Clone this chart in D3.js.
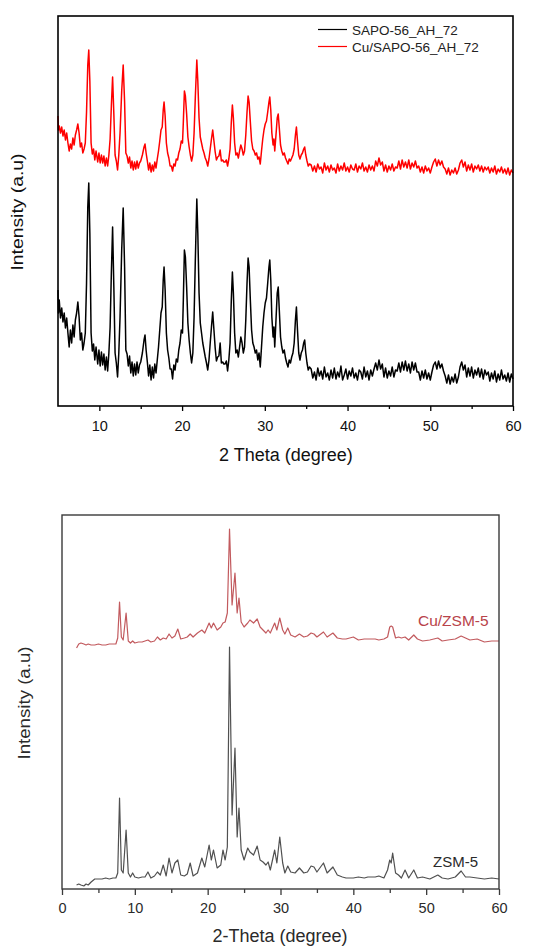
<!DOCTYPE html>
<html>
<head>
<meta charset="utf-8">
<script src="https://cdn.jsdelivr.net/npm/d3@7"></script>
<style>
  html, body { margin: 0; padding: 0; background: #fff; }
  svg { display: block; font-family: "Liberation Sans", Arial, sans-serif; }
</style>
</head>
<body>
<svg id="chart" width="550" height="946"></svg>
<script>
// ---- top panel: SAPO-56 (2 theta in degrees, intensity in a.u.) ----
const theta56 = [
  5.0,5.05,5.15,5.3,5.45,5.6,5.75,5.9,6.05,6.2,
  6.35,6.5,6.65,6.8,6.95,7.1,7.25,7.4,7.55,7.7,
  7.85,8.0,8.15,8.3,8.45,8.6,8.72,8.85,9.0,9.15,
  9.3,9.45,9.6,9.8,9.95,10.1,10.25,10.4,10.55,10.7,
  10.85,11.0,11.15,11.3,11.45,11.6,11.75,11.9,12.05,12.2,
  12.35,12.5,12.7,12.88,13.05,13.2,13.35,13.5,13.65,13.8,
  13.95,14.1,14.25,14.4,14.55,14.7,14.85,15.0,15.2,15.4,
  15.52,15.65,15.8,15.95,16.1,16.25,16.4,16.55,16.7,16.85,
  17.0,17.15,17.3,17.45,17.6,17.72,17.82,17.95,18.1,18.25,
  18.4,18.55,18.7,18.85,19.0,19.15,19.3,19.45,19.6,19.75,
  19.9,20.05,20.15,20.28,20.4,20.55,20.7,20.85,21.0,21.15,
  21.3,21.45,21.6,21.78,21.9,22.05,22.2,22.35,22.5,22.65,
  22.8,22.95,23.1,23.25,23.4,23.55,23.7,23.85,24.0,24.15,
  24.3,24.45,24.6,24.75,24.9,25.05,25.2,25.35,25.5,25.65,
  25.8,25.95,26.08,26.2,26.35,26.5,26.65,26.8,26.95,27.1,
  27.25,27.4,27.55,27.7,27.85,27.98,28.1,28.25,28.4,28.55,
  28.7,28.85,29.0,29.15,29.3,29.45,29.6,29.75,29.9,30.05,
  30.2,30.35,30.5,30.6,30.72,30.85,31.0,31.1,31.2,31.35,
  31.5,31.62,31.75,31.9,32.05,32.2,32.35,32.5,32.65,32.8,
  32.95,33.1,33.25,33.4,33.55,33.7,33.82,33.95,34.1,34.25,
  34.4,34.55,34.7,34.82,34.95,35.1,35.25,35.4,
  35.6,35.8,36.0,36.2,36.4,36.6,36.8,37.0,37.2,37.4,
  37.6,37.8,38.0,38.2,38.4,38.6,38.8,39.0,39.2,39.4,
  39.6,39.8,40.0,40.2,40.4,40.6,40.8,41.0,41.2,41.4,
  41.6,41.8,42.0,42.2,42.4,42.6,42.8,43.0,43.2,
  43.4,43.6,43.8,44.0,44.2,
  44.4,44.6,44.8,45.0,45.2,45.4,45.6,45.8,
  46.0,46.2,46.4,46.6,46.8,47.0,47.2,47.4,47.6,47.8,48.0,48.2,48.4,
  48.6,48.8,49.0,49.2,49.4,49.6,49.8,50.0,50.2,
  50.4,50.6,50.8,51.0,51.2,51.4,51.6,
  51.8,52.0,52.2,52.4,52.6,52.8,53.0,53.2,53.4,
  53.6,53.8,54.0,54.2,
  54.4,54.6,54.8,55.0,55.2,55.4,55.6,55.8,56.0,56.2,56.4,56.6,56.8,
  57.0,57.2,57.4,57.6,57.8,58.0,58.2,58.4,58.6,58.8,59.0,59.2,59.4,59.6,59.8,60.0
];
const sapo56 = [
  116,93,106,88,98,84,93,78,88,73,
  59,76,63,81,69,86,93,104,89,66,
  73,56,63,73,123,199,223,173,73,55,
  62,46,59,42,56,40,54,41,52,36,
  49,35,53,79,133,179,119,53,43,29,
  53,89,156,198,139,56,52,40,50,33,
  44,30,42,31,44,33,41,44,53,66,
  71,56,44,30,41,26,39,28,42,33,
  46,59,76,93,99,126,139,116,73,56,
  48,37,37,27,41,36,47,44,56,63,
  76,73,106,156,149,119,83,66,53,43,
  53,89,146,207,173,113,83,73,63,56,
  49,43,36,46,63,79,94,76,58,45,
  49,50,63,43,44,42,42,45,35,46,
  63,106,134,113,73,53,56,49,59,69,
  63,53,59,86,123,148,139,106,76,63,
  59,53,56,46,53,39,59,79,93,103,
  108,123,139,146,126,89,69,79,59,86,
  113,119,96,69,59,53,56,48,43,39,
  46,43,49,53,63,86,99,76,53,46,
  53,56,63,66,53,43,36,39,
  37,28,34,26,38,30,35,27,39,29,
  33,26,36,28,38,27,34,29,40,26,
  31,37,27,35,30,38,28,33,26,36,
  34,27,39,29,35,26,36,30,37,
  43,36,46,37,42,
  29,38,28,35,30,39,29,36,
  35,43,34,44,36,45,35,42,33,44,36,43,34,
  34,26,35,28,36,27,33,26,34,
  41,44,37,45,38,42,35,
  30,23,31,22,29,24,32,23,29,
  39,44,36,41,
  29,38,30,39,28,36,31,38,29,37,27,36,31,
  34,25,33,27,35,24,32,26,36,27,31,25,33,24,32,27
];
const cuSapo56 = [
  290,276,280,273,279,270,276,266,273,263,
  255,262,257,268,261,271,276,282,273,259,
  263,253,257,263,294,341,356,325,263,252,
  257,246,255,244,253,243,251,243,250,240,
  248,240,251,267,300,329,292,251,245,236,
  251,273,315,341,304,253,250,243,249,238,
  245,236,244,237,245,238,243,245,251,259,
  262,253,245,236,243,234,241,235,244,238,
  247,255,265,276,279,296,304,290,263,253,
  248,240,240,235,242,240,247,246,253,257,
  265,263,284,315,310,292,269,259,251,245,
  251,273,309,346,325,288,269,263,257,253,
  248,245,240,247,257,267,276,265,254,246,
  249,250,256,245,246,244,244,246,240,247,
  257,284,301,288,263,251,253,248,255,261,
  257,251,255,271,294,310,304,284,265,257,
  255,251,253,247,249,242,255,267,276,282,
  285,294,304,309,296,273,261,267,255,271,
  288,292,278,261,255,251,253,248,245,242,
  247,245,248,251,257,271,279,265,251,247,
  251,253,257,259,251,245,240,242,
  241,235,240,234,242,237,239,233,243,236,
  240,234,241,236,238,233,242,235,240,236,
  243,235,239,234,241,237,236,242,234,240,
  237,243,235,239,234,241,236,240,235,
  245,240,248,241,244,
  235,241,234,240,236,242,235,239,
  238,245,237,246,239,244,238,246,237,243,239,245,238,
  240,234,239,233,240,235,238,233,239,
  244,247,240,246,241,245,239,
  237,232,238,231,236,233,238,232,236,
  243,246,239,244,
  235,241,236,242,234,240,237,241,235,240,234,239,236,
  239,233,238,234,240,232,237,234,239,233,237,232,238,231,236,233
];
const names56 = ['SAPO-56_AH_72', 'Cu/SAPO-56_AH_72'];
const colors56 = ['#000000', '#ff0000'];
const ticksTop = [10, 20, 30, 40, 50, 60];
const minorTop = [15, 25, 35, 45, 55];

// ---- bottom panel: ZSM-5 ----
const thetaZsm = [
  2.0,2.3,2.6,3.0,3.3,3.6,4.0,4.5,5.0,5.5,
  6.0,6.5,7.0,7.4,7.65,7.9,8.15,8.4,8.8,9.1,
  9.4,9.7,10.0,10.5,11.0,11.4,11.8,12.2,12.7,13.1,
  13.5,13.9,14.3,14.7,15.1,15.5,15.9,16.3,16.8,17.2,
  17.6,18.0,18.6,19.2,19.6,20.2,20.5,20.8,21.3,21.8,
  22.1,22.4,22.7,23.0,23.35,23.75,24.05,24.3,24.6,25.0,
  25.5,25.8,26.3,26.8,27.2,27.6,28.0,28.3,28.6,29.2,
  29.5,29.9,30.3,30.6,31.0,31.4,32.0,32.6,33.2,33.7,
  34.2,34.6,35.0,35.9,36.4,37.2,37.8,38.5,39.0,40.0,
  40.7,41.5,42.0,43.0,43.5,44.2,44.7,45.0,45.2,45.4,
  45.8,46.2,46.6,47.1,47.6,48.3,48.8,49.5,50.5,51.6,
  52.2,53.0,54.0,54.8,55.4,56.0,57.0,58.0,59.0,60.0
];
const zsm5 = [
  4,5,4,3,5,4,7,10,10,10,
  11,10,11,11,16,91,19,16,59,16,
  12,16,12,11,12,12,17,11,13,17,
  14,24,13,31,16,26,29,14,13,15,
  26,13,16,31,22,44,29,39,21,24,
  39,29,42,242,74,141,52,81,39,29,
  41,37,34,43,29,27,24,27,19,39,
  26,52,26,16,23,17,16,21,16,17,
  23,22,17,26,16,22,14,12,11,11,
  12,11,12,12,13,11,19,29,26,36,
  16,14,11,19,11,19,11,12,10,14,
  11,10,12,18,12,12,11,10,11,10
];
const cuZsm5 = [
  241,245,246,245,244,245,244,244,245,244,
  244,245,245,245,251,287,252,249,276,248,
  246,248,246,247,247,248,249,247,248,252,
  249,251,250,255,251,253,260,250,251,252,
  255,252,256,259,256,266,261,266,259,262,
  266,267,276,360,284,316,276,291,267,262,
  266,269,266,270,262,259,256,259,256,266,
  259,271,259,255,261,254,252,255,252,253,
  256,255,252,257,252,256,251,250,250,252,
  249,250,250,250,249,250,252,262,263,262,
  251,252,251,252,249,254,250,248,249,251,
  248,249,250,253,251,249,250,247,248,248
];
const namesZsm = ['ZSM-5', 'Cu/ZSM-5'];
const colorsZsm = ['#505050', '#c25a5e'];
const ticksBottom = [0, 10, 20, 30, 40, 50, 60];
const minorBottom = [5, 15, 25, 35, 45, 55];

const svg = d3.select('#chart');

function panel(o){
  const g = svg.append('g');
  const x = d3.scaleLinear().domain(o.xDomain).range([o.left, o.right]);
  const y = d3.scaleLinear().domain(o.yDomain).range([o.bottom, o.top]);

  // minor + major ticks, outward
  const minor = g.append('g').attr('transform', `translate(0,${o.bottom})`)
    .call(d3.axisBottom(x).tickValues(o.minor).tickSize(o.minorLen).tickFormat(''));
  const major = g.append('g').attr('transform', `translate(0,${o.bottom})`)
    .call(d3.axisBottom(x).tickValues(o.major).tickSize(o.majorLen).tickPadding(o.pad).tickFormat(d3.format('d')));
  [minor, major].forEach(a => {
    a.select('.domain').remove();
    a.selectAll('line').attr('stroke', o.frame).attr('stroke-width', 1.3);
  });
  major.selectAll('text').attr('font-size', o.tickFont).attr('fill', o.tickColor)
    .attr('font-family', '"Liberation Sans", Arial, sans-serif');

  // curves
  const line = d3.line().x(d => x(d[0])).y(d => y(d[1]));
  o.series.forEach(s => {
    g.append('path')
      .datum(d3.zip(o.theta, s.values))
      .attr('fill', 'none')
      .attr('stroke', s.color)
      .attr('stroke-width', s.width)
      .attr('stroke-linejoin', 'round')
      .attr('d', line);
  });

  // frame
  g.append('rect')
    .attr('x', o.left).attr('y', o.top)
    .attr('width', o.right - o.left).attr('height', o.bottom - o.top)
    .attr('fill', 'none').attr('stroke', o.frame).attr('stroke-width', o.frameWidth);

  // axis titles
  g.append('text')
    .attr('x', o.xTitleCx).attr('y', o.xTitleY)
    .attr('text-anchor', 'middle').attr('font-size', o.titleFont).attr('fill', o.tickColor)
    .text(o.xTitle);
  g.append('text')
    .attr('transform', `translate(${o.yTitleX},${o.yTitleCy}) rotate(-90)`)
    .attr('text-anchor', 'middle').attr('font-size', 16).attr('fill', o.tickColor)
    .attr('textLength', o.yTitleLen).attr('lengthAdjust', 'spacingAndGlyphs')
    .text('Intensity (a.u)');
  return { g, x, y };
}

// top panel
const sapoPanel = panel({
  left: 58, right: 513, top: 16, bottom: 406,
  xDomain: [5, 60], yDomain: [0, 390],
  major: ticksTop, minor: minorTop, majorLen: 5, minorLen: 3, pad: 10,
  tickFont: 14.5, tickColor: '#111', frame: '#000', frameWidth: 1.6,
  titleFont: 18, xTitle: '2 Theta (degree)', xTitleCx: 286, xTitleY: 461,
  yTitleX: 23, yTitleCy: 212, yTitleLen: 117,
  theta: theta56,
  series: [
    { values: sapo56, color: colors56[0], width: 1.5 },
    { values: cuSapo56, color: colors56[1], width: 1.5 }
  ]
});

// legend
const leg = sapoPanel.g.append('g');
names56.forEach((n, i) => {
  const ly = 29.5 + i * 17;
  leg.append('line').attr('x1', 318).attr('x2', 347).attr('y1', ly).attr('y2', ly)
    .attr('stroke', colors56[i]).attr('stroke-width', 1.2);
  leg.append('text').attr('x', 352).attr('y', ly + 5)
    .attr('font-size', 13.5).attr('fill', '#222').text(n);
});

// bottom panel
const zsmPanel = panel({
  left: 62, right: 499, top: 515, bottom: 889,
  xDomain: [0, 60], yDomain: [0, 374],
  major: ticksBottom, minor: minorBottom, majorLen: 6, minorLen: 4, pad: 8,
  tickFont: 14.5, tickColor: '#2a2a2a', frame: '#3a3a3a', frameWidth: 1.4,
  titleFont: 18, xTitle: '2-Theta (degree)', xTitleCx: 280, xTitleY: 942,
  yTitleX: 29.5, yTitleCy: 703, yTitleLen: 113,
  theta: thetaZsm,
  series: [
    { values: zsm5, color: colorsZsm[0], width: 1.2 },
    { values: cuZsm5, color: colorsZsm[1], width: 1.2 }
  ]
});

zsmPanel.g.append('text').attr('x', 433).attr('y', 867)
  .attr('font-size', 15).attr('fill', '#2a2a2a').text(namesZsm[0]);
zsmPanel.g.append('text').attr('x', 418).attr('y', 626)
  .attr('font-size', 15.5).attr('fill', '#b8434a').text(namesZsm[1]);
</script>
</body>
</html>
